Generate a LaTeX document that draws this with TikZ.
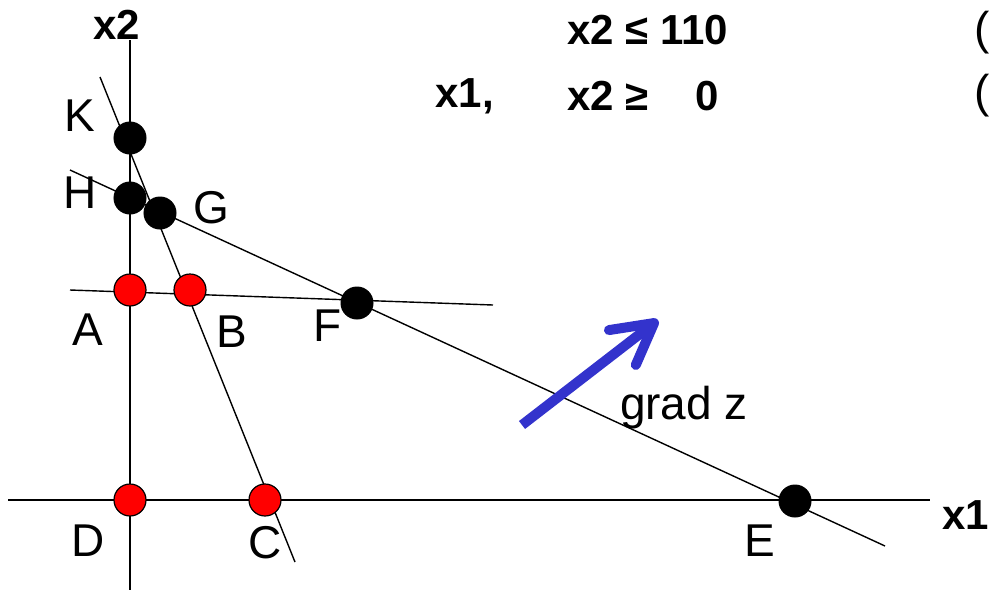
\documentclass[tikz,border=0pt]{standalone}
\usepackage{fontspec}
\setmainfont{Liberation Sans}
\usetikzlibrary{arrows.meta, positioning}
\definecolor{gradBlue}{RGB}{51, 51, 204}
\definecolor{ptRed}{RGB}{255, 0, 0}

\begin{document}
\begin{tikzpicture}[
    x=0.5pt, y=-0.5pt,
    line/.style={black, line width=0.7pt},
    bdot/.style={circle, fill=black, draw=black, line width=0.5pt, minimum size=16pt, inner sep=0pt},
    rdot/.style={circle, fill=ptRed, draw=black, line width=0.6pt, minimum size=16pt, inner sep=0pt},
    lbl/.style={font=\fontsize{23}{27}\selectfont, inner sep=0pt},
    hdr/.style={font=\fontsize{21}{25}\selectfont\bfseries, inner sep=0pt},
    gradarrow/.style={gradBlue, line width=5pt, -{Straight Barb[length=20pt, width=22pt, round]}}
]
\useasboundingbox (0,0) rectangle (991,590);

% Axes
\coordinate (x2top) at (130,40);
\coordinate (x2bot) at (130,590);
\coordinate (x1left) at (8,500);
\coordinate (x1right) at (930,500);
\draw[line] (x2top) -- (x2bot);
\draw[line] (x1left) -- (x1right);

% Constraint lines
\coordinate (kcTop) at (100,77);
\coordinate (kcBot) at (295,562);
\coordinate (heTop) at (70,170);
\coordinate (heBot) at (885,546);
\coordinate (abLeft) at (70,290);
\coordinate (abRight) at (493,305);
\draw[line] (kcTop) -- (kcBot);
\draw[line] (heTop) -- (heBot);
\draw[line] (abLeft) -- (abRight);

% Vertices
\node[bdot] (K) at (130,138) {};
\node[bdot] (H) at (130,198) {};
\node[bdot] (G) at (160,213) {};
\node[bdot] (F) at (357,303) {};
\node[bdot] (E) at (795,501) {};
\node[rdot] (A) at (130,290) {};
\node[rdot] (B) at (190,290) {};
\node[rdot] (D) at (130,500) {};
\node[rdot] (C) at (265,500) {};

% Vertex labels
\node[lbl] (labK) at (80,116) {K};
\node[lbl] (labH) at (80,193) {H};
\node[lbl] (labG) at (211,208) {G};
\node[lbl] (labA) at (88,330) {A};
\node[lbl] (labB) at (232,332) {B};
\node[lbl] (labF) at (328,326) {F};
\node[lbl] (labD) at (88,541) {D};
\node[lbl] (labC) at (265,543) {C};
\node[lbl] (labE) at (760,541) {E};

% Axis names and constraints
\node[hdr] (axX2) at (117,25) {x2};
\node[hdr, anchor=west] (axX1) at (942,515) {x1};
\node[hdr, anchor=west] (con1) at (567,30) {x2 ≤ 110};
\node[hdr, anchor=west] (con2a) at (435,96) {x1,};
\node[hdr, anchor=west] (con2b) at (567,96) {x2 ≥};
\node[hdr] (con2c) at (707,96) {0};
\node[lbl, anchor=west] (par1) at (974,33) {(};
\node[lbl, anchor=west] (par2) at (974,96) {(};

% Gradient
\coordinate (gradStart) at (522,425);
\coordinate (gradEnd) at (658,320);
\draw[gradarrow] (gradStart) -- (gradEnd);
\node[lbl] (gradLbl) at (684,408) {grad z};

\end{tikzpicture}
\end{document}
